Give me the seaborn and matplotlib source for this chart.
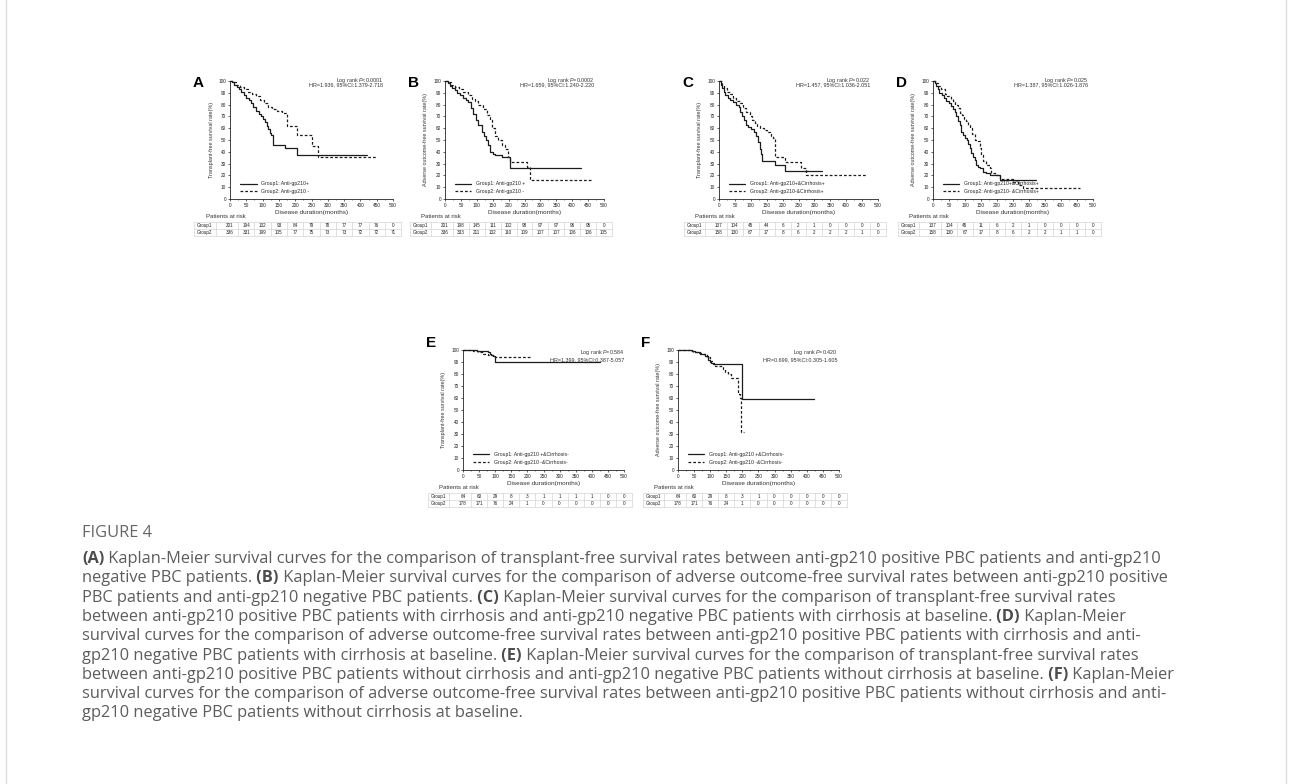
import matplotlib
matplotlib.use("Agg")
import matplotlib.pyplot as plt
from matplotlib.patches import Rectangle
import pandas as pd
import seaborn as sns

sns.set_theme(style="ticks")
plt.rcParams["font.family"] = ["Liberation Sans", "DejaVu Sans"]
plt.rcParams["mathtext.fontset"] = "custom"
plt.rcParams["mathtext.rm"] = "Liberation Sans"
plt.rcParams["mathtext.it"] = "Liberation Sans:italic"
plt.rcParams["mathtext.bf"] = "Liberation Sans:bold"

W, H = 1292, 784

months = [0, 50, 100, 150, 200, 250, 300, 350, 400, 450, 500]

# --- KM curves (time in months, survival in %)
A_g1_t = [0, 5, 12, 20, 28, 35, 42, 50, 58, 65, 72, 80, 88, 95, 102, 108, 113, 118, 122, 126, 132, 170, 205, 420]
A_g1_s = [100, 99, 97, 95, 93, 91, 88, 86, 84, 81, 78, 75, 72, 70, 68, 65, 62, 59, 56, 54, 46, 43, 37.5, 37.5]
A_g2_t = [0, 8, 18, 30, 42, 55, 68, 80, 92, 105, 118, 130, 145, 160, 174, 205, 251, 271, 450]
A_g2_s = [100, 99, 97, 95, 93, 91, 89, 87, 84, 81, 78, 76, 75, 73, 62, 54, 45, 36, 36]

B_g1_t = [0, 8, 15, 22, 30, 38, 47, 56, 65, 73, 81, 89, 97, 105, 115, 122, 128, 136, 142, 150, 157, 178, 204, 428]
B_g1_s = [100, 98, 96, 94, 92, 90, 88, 86, 84, 82, 77, 72, 67, 63, 57, 53, 50, 46, 40, 38, 37, 35.5, 26, 26]
B_g2_t = [0, 10, 20, 32, 45, 58, 73, 85, 95, 105, 118, 131, 142, 147, 157, 168, 178, 189, 199, 204, 257, 268, 461]
B_g2_s = [100, 99, 97, 95, 93, 91, 88, 85, 83, 80, 76, 71, 67, 60, 53, 50, 46, 42, 36, 31.5, 27.5, 16, 16]

C_g1_t = [0, 5, 10, 15, 20, 27, 35, 45, 55, 62, 66, 72, 78, 85, 92, 100, 110, 117, 122, 128, 133, 136, 175, 209, 325]
C_g1_s = [100, 97, 94, 91, 88, 86, 84, 82, 80, 78, 74, 70, 67, 63, 61, 59, 57, 53, 48, 42, 38, 32.5, 29, 24, 24]
C_g2_t = [0, 8, 15, 25, 35, 45, 55, 65, 75, 85, 96, 105, 112, 120, 128, 140, 150, 160, 165, 170, 175, 209, 259, 275, 463]
C_g2_s = [100, 97, 94, 91, 89, 86, 83, 81, 77, 74, 70, 67, 64, 62, 60, 58.5, 57, 55, 53, 51.5, 36, 31, 26, 20, 20]

D_g1_t = [0, 5, 10, 15, 20, 28, 35, 42, 50, 57, 63, 68, 73, 78, 83, 89, 94, 99, 105, 110, 115, 120, 125, 130, 135, 140, 146, 156, 167, 177, 208, 323]
D_g1_s = [100, 98, 96, 93, 90, 88, 86, 83, 81, 79, 76, 74, 70, 66, 63, 57, 54, 51.5, 50, 47, 43, 39, 36, 33, 29, 27.5, 26, 23, 22, 20.4, 16.5, 16.5]
D_g2_t = [0, 8, 15, 25, 36, 45, 55, 62, 70, 78, 85, 92, 98, 104, 110, 115, 122, 130, 141, 146, 151, 156, 167, 177, 182, 193, 208, 250, 265, 280, 458]
D_g2_s = [100, 98, 96, 93, 89, 87, 85, 83, 80, 77, 73, 71, 68, 66, 63, 60, 55, 50, 49, 43, 37.5, 32, 29, 26, 22, 20, 17, 14, 12, 9, 9]

E_g1_t = [0, 42, 78, 83, 88, 93, 98, 100, 425]
E_g1_s = [100, 99, 98, 97, 96, 95, 94, 90, 90]
E_g2_t = [0, 31, 47, 62, 78, 93, 98, 212]
E_g2_s = [100, 99, 98, 97, 96, 95, 94.5, 94.5]

F_g1_t = [0, 42, 52, 67, 83, 93, 98, 104, 111, 200, 423]
F_g1_s = [100, 99, 98, 97, 95, 92, 90, 89.5, 88.6, 59, 59]
F_g2_t = [0, 36, 47, 62, 78, 90, 98, 109, 114, 140, 147, 155, 166, 187, 192, 195, 205]
F_g2_s = [100, 99, 98, 97.5, 96.5, 94, 91, 88, 86.5, 84, 82, 80, 76.5, 63, 60, 32, 32]

# --- numbers at risk at 0, 50, ..., 500 months
A_risk1 = [201, 194, 132, 93, 84, 79, 78, 77, 77, 76, 0]
A_risk2 = [336, 331, 199, 105, 77, 75, 73, 73, 72, 72, 71]
B_risk1 = [201, 198, 145, 111, 102, 98, 97, 97, 96, 95, 0]
B_risk2 = [336, 333, 211, 132, 110, 109, 107, 107, 106, 106, 105]
C_risk1 = [137, 104, 45, 44, 6, 2, 1, 0, 0, 0, 0]
C_risk2 = [158, 130, 67, 17, 8, 6, 2, 2, 2, 1, 0]
D_risk1 = [137, 104, 45, 11, 6, 2, 1, 0, 0, 0, 0]
D_risk2 = [158, 130, 67, 17, 8, 6, 2, 2, 1, 1, 0]
E_risk1 = [64, 60, 29, 8, 3, 1, 1, 1, 1, 0, 0]
E_risk2 = [178, 171, 76, 24, 1, 0, 0, 0, 0, 0, 0]
F_risk1 = [64, 60, 29, 8, 3, 1, 0, 0, 0, 0, 0]
F_risk2 = [178, 171, 76, 24, 1, 0, 0, 0, 0, 0, 0]

ylab_tf = "Transplant-free survival rate(%)"
ylab_ao = "Adverse outcome-free survival rate(%)"

panels = [
    dict(letter="A", box=(230, 81, 393, 199), ylabel=ylab_tf,
         g1=(A_g1_t, A_g1_s), g2=(A_g2_t, A_g2_s),
         labels=("Group1: Anti-gp210+", "Group2: Anti-gp210 -"),
         stats=("Log rank $P$<0.0001", "HR=1.936, 95%CI:1.379-2.718"),
         risk=(A_risk1, A_risk2), tx=0.94, ty=(1.003, 0.964)),
    dict(letter="B", box=(445, 81, 604, 199), ylabel=ylab_ao,
         g1=(B_g1_t, B_g1_s), g2=(B_g2_t, B_g2_s),
         labels=("Group1: Anti-gp210 +", "Group2: Anti-gp210 -"),
         stats=("Log rank $P$=0.0002", "HR=1.659, 95%CI:1.240-2.220"),
         risk=(B_risk1, B_risk2), tx=0.94, ty=(1.003, 0.964)),
    dict(letter="C", box=(719, 81, 878, 199), ylabel=ylab_tf,
         g1=(C_g1_t, C_g1_s), g2=(C_g2_t, C_g2_s),
         labels=("Group1: Anti-gp210+&Cirrhosis+", "Group2: Anti-gp210-&Cirrhosis+"),
         stats=("Log rank $P$=0.022", "HR=1.457, 95%CI:1.036-2.051"),
         risk=(C_risk1, C_risk2), tx=0.95, ty=(1.003, 0.964)),
    dict(letter="D", box=(933, 81, 1093, 199), ylabel=ylab_ao,
         g1=(D_g1_t, D_g1_s), g2=(D_g2_t, D_g2_s),
         labels=("Group1: Anti-gp210+&Cirrhosis+", "Group2: Anti-gp210- &Cirrhosis+"),
         stats=("Log rank $P$=0.025", "HR=1.387, 95%CI:1.026-1.876"),
         risk=(D_risk1, D_risk2), tx=0.97, ty=(1.003, 0.964)),
    dict(letter="E", box=(463, 350, 624, 470), ylabel=ylab_tf,
         g1=(E_g1_t, E_g1_s), g2=(E_g2_t, E_g2_s),
         labels=("Group1: Anti-gp210 +&Cirrhosis-", "Group2: Anti-gp210 -&Cirrhosis-"),
         stats=("Log rank $P$=0.584", "HR=1.399, 95%CI:0.387-5.057"),
         risk=(E_risk1, E_risk2), tx=1.0, ty=(0.983, 0.922)),
    dict(letter="F", box=(678, 350, 839, 470), ylabel=ylab_ao,
         g1=(F_g1_t, F_g1_s), g2=(F_g2_t, F_g2_s),
         labels=("Group1: Anti-gp210 +&Cirrhosis-", "Group2: Anti-gp210 -&Cirrhosis-"),
         stats=("Log rank $P$=0.420", "HR=0.699, 95%CI:0.305-1.605"),
         risk=(F_risk1, F_risk2), tx=0.99, ty=(0.983, 0.922)),
]

caption_lines = [
    [("(A)", True), (" Kaplan-Meier survival curves for the comparison of transplant-free survival rates between anti-gp210 positive PBC patients and anti-gp210", False)],
    [("negative PBC patients.", False), (" (B)", True), (" Kaplan-Meier survival curves for the comparison of adverse outcome-free survival rates between anti-gp210 positive", False)],
    [("PBC patients and anti-gp210 negative PBC patients.", False), (" (C)", True), (" Kaplan-Meier survival curves for the comparison of transplant-free survival rates", False)],
    [("between anti-gp210 positive PBC patients with cirrhosis and anti-gp210 negative PBC patients with cirrhosis at baseline.", False), (" (D)", True), (" Kaplan-Meier", False)],
    [("survival curves for the comparison of adverse outcome-free survival rates between anti-gp210 positive PBC patients with cirrhosis and anti-", False)],
    [("gp210 negative PBC patients with cirrhosis at baseline.", False), (" (E)", True), (" Kaplan-Meier survival curves for the comparison of transplant-free survival rates", False)],
    [("between anti-gp210 positive PBC patients without cirrhosis and anti-gp210 negative PBC patients without cirrhosis at baseline.", False), (" (F)", True), (" Kaplan-Meier", False)],
    [("survival curves for the comparison of adverse outcome-free survival rates between anti-gp210 positive PBC patients without cirrhosis and anti-", False)],
    [("gp210 negative PBC patients without cirrhosis at baseline.", False)],
]

fig = plt.figure(figsize=(W / 100, H / 100), dpi=100)
fig.patch.set_facecolor("white")


def px_axes(left, top, right, bottom):
    return fig.add_axes([left / W, 1 - bottom / H, (right - left) / W, (bottom - top) / H])


def fy(y):
    return 1 - y / H


line_col = "#1c1c1c"

for p in panels:
    l, t, r, b = p["box"]
    ax = px_axes(l, t, r, b)
    d1 = pd.DataFrame({"t": p["g1"][0], "s": p["g1"][1]})
    d2 = pd.DataFrame({"t": p["g2"][0], "s": p["g2"][1]})
    sns.lineplot(data=d1, x="t", y="s", ax=ax, estimator=None, sort=False,
                 drawstyle="steps-post", color=line_col, lw=0.9, clip_on=False)
    sns.lineplot(data=d2, x="t", y="s", ax=ax, estimator=None, sort=False,
                 drawstyle="steps-post", color=line_col, lw=0.9,
                 linestyle=(0, (2.2, 1.6)), clip_on=False)
    ax.set_xlim(0, 500)
    ax.set_ylim(0, 100)
    ax.set_xticks(months)
    ax.set_xticks(range(25, 500, 50), minor=True)
    ax.set_yticks(range(0, 101, 10))
    ax.tick_params(axis="both", which="major", labelsize=3.4, length=1.6, width=0.5,
                   pad=1.2, colors="#222222")
    ax.tick_params(axis="x", which="minor", length=1.0, width=0.4, colors="#222222")
    for side in ["top", "right"]:
        ax.spines[side].set_visible(False)
    for side in ["left", "bottom"]:
        ax.spines[side].set_linewidth(0.6)
        ax.spines[side].set_color("#222222")
    ax.set_xlabel("Disease duration(months)", fontsize=4.6, labelpad=1.8, color="#333333")
    ax.set_ylabel(p["ylabel"], fontsize=3.9, labelpad=3.5, color="#333333")
    ax.legend(handles=ax.lines[:2], labels=list(p["labels"]), loc="lower left",
              bbox_to_anchor=(0.04, 0.015), frameon=False, fontsize=3.7,
              handlelength=3.2, handletextpad=0.9, labelspacing=0.45, borderpad=0.2)
    ax.text(p["tx"], p["ty"][0], p["stats"][0], transform=ax.transAxes,
            ha="right", va="center", fontsize=3.9, color="#333333")
    ax.text(p["tx"], p["ty"][1], p["stats"][1], transform=ax.transAxes,
            ha="right", va="center", fontsize=3.9, color="#333333")

    # panel letter
    ly = t + 2 if t < 200 else t - 7
    fig.text((l - 37) / W, fy(ly), p["letter"], fontsize=11, fontweight="bold",
             ha="left", va="center", color="black")

    # number-at-risk table, aligned with the month axis
    ppu = (r - l) / 500
    tl, tr = l - 110 * ppu, l + 525 * ppu
    top = b + 22.5
    fig.text((l - 24) / W, fy(b + 17.5), "Patients at risk", fontsize=4.3,
             ha="left", va="center", color="#333333")
    tax = px_axes(tl, top, tr, top + 14)
    tax.set_xlim(-110, 525)
    tax.set_ylim(2, 0)
    tax.axis("off")
    edges = [-110, -44] + [25 + 50 * k for k in range(10)] + [525]
    for e in edges:
        tax.plot([e, e], [0, 2], color="#d4d4d4", lw=0.5, clip_on=False)
    for yy in [0, 1, 2]:
        tax.plot([-110, 525], [yy, yy], color="#d4d4d4", lw=0.5, clip_on=False)
    for row, (name, vals) in enumerate(zip(["Group1", "Group2"], p["risk"])):
        tax.text(-77, row + 0.52, name, ha="center", va="center", fontsize=3.3, color="#222222")
        for m, v in zip(months, vals):
            tax.text(m, row + 0.52, str(v), ha="center", va="center", fontsize=3.3, color="#222222")

# side lines of the figure box
fig.add_artist(Rectangle((6 / W, fy(800)), (1286 - 6) / W, (800 + 10) / H,
                         transform=fig.transFigure, fill=False, ec="#dcdcdc", lw=1.0))

# caption
cap_font = ["Open Sans", "DejaVu Sans"]
cap_size = 11.8
fig.text(82 / W, fy(533), "FIGURE 4", fontsize=cap_size, family=cap_font,
         color="#666666", ha="left", va="center")
renderer = fig.canvas.get_renderer()
cap_x0, cap_y0, cap_dy = 82, 559, 19.3
for i, parts in enumerate(caption_lines):
    x = cap_x0
    for txt, bold in parts:
        tt = fig.text(x / W, fy(cap_y0 + i * cap_dy), txt, fontsize=cap_size, family=cap_font,
                      fontweight="bold" if bold else "normal",
                      color="#4d4d4d" if bold else "#5c5c5c",
                      ha="left", va="center")
        x += tt.get_window_extent(renderer).width

fig.savefig("out.png", dpi=100)
